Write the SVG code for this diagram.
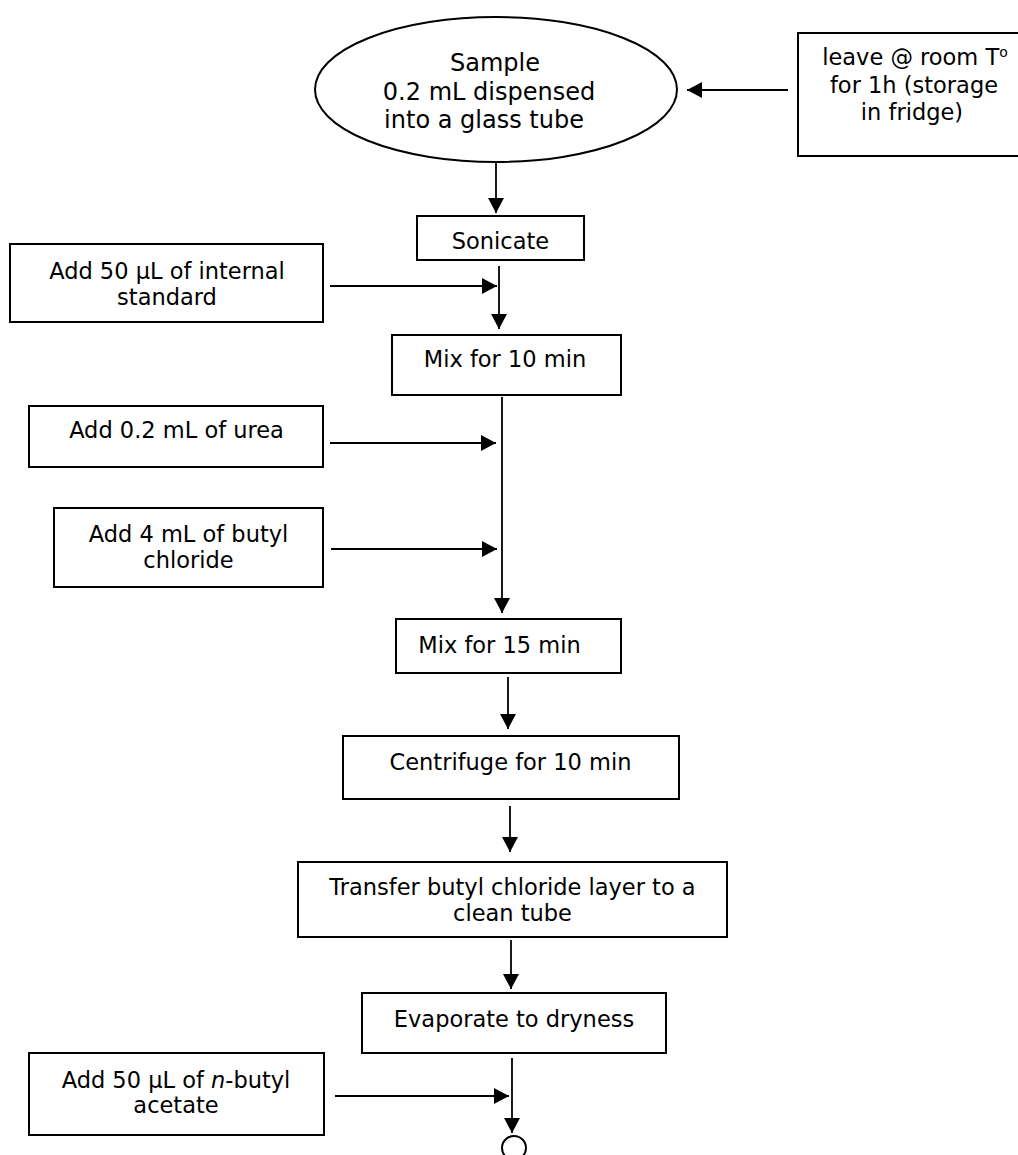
<svg xmlns="http://www.w3.org/2000/svg" width="1018" height="1155" viewBox="0 0 1018 1155">
  <style>
    .box { fill: #ffffff; stroke: #000000; stroke-width: 2; }
    .lbl { font-family: "DejaVu Sans", Verdana, "Liberation Sans", sans-serif; font-size: 22.5px; fill: #000000; text-anchor: middle; }
    .big { font-size: 24px; }
    .conn { stroke: #000000; stroke-width: 1.8; fill: none; }
  </style>
  <defs>
    <marker id="arrow" viewBox="0 0 15 16" refX="15" refY="8" markerWidth="15" markerHeight="16" markerUnits="userSpaceOnUse" orient="auto">
      <path d="M0,0 L15,8 L0,16 Z" fill="#000000"/>
    </marker>
  </defs>
  <rect width="1018" height="1155" fill="#ffffff"/>

  <!-- connectors -->
  <g id="connectors" class="conn">
    <line x1="788" y1="90" x2="687" y2="90" marker-end="url(#arrow)"/>
    <line x1="496" y1="162" x2="496" y2="213" marker-end="url(#arrow)"/>
    <line x1="330" y1="286" x2="497" y2="286" marker-end="url(#arrow)"/>
    <line x1="499" y1="266" x2="499" y2="329" marker-end="url(#arrow)"/>
    <line x1="330" y1="443" x2="496" y2="443" marker-end="url(#arrow)"/>
    <line x1="331" y1="549" x2="497" y2="549" marker-end="url(#arrow)"/>
    <line x1="502" y1="397" x2="502" y2="613" marker-end="url(#arrow)"/>
    <line x1="508" y1="677" x2="508" y2="729" marker-end="url(#arrow)"/>
    <line x1="510" y1="806" x2="510" y2="852" marker-end="url(#arrow)"/>
    <line x1="511" y1="940" x2="511" y2="989" marker-end="url(#arrow)"/>
    <line x1="335" y1="1096" x2="509" y2="1096" marker-end="url(#arrow)"/>
    <line x1="512" y1="1058" x2="512" y2="1133" marker-end="url(#arrow)"/>
  </g>

  <g id="sample">
    <ellipse class="box" cx="496" cy="89.5" rx="181" ry="72.5"/>
    <text class="lbl big" x="495" y="71">Sample</text>
    <text class="lbl big" x="489" y="99.5">0.2 mL dispensed</text>
    <text class="lbl big" x="484" y="128">into a glass tube</text>
  </g>

  <g id="storage">
    <rect class="box" x="798" y="33" width="240" height="123"/>
    <text class="lbl" x="915" y="65">leave @ room T<tspan font-size="14" baseline-shift="super">o</tspan></text>
    <text class="lbl" x="914" y="92.5">for 1h (storage</text>
    <text class="lbl" x="912" y="119.5">in fridge)</text>
  </g>

  <g id="sonicate">
    <rect class="box" x="417" y="216" width="167" height="44"/>
    <text class="lbl" x="500.5" y="249">Sonicate</text>
  </g>

  <g id="add-internal-standard">
    <rect class="box" x="10" y="244" width="313" height="78"/>
    <text class="lbl" x="167" y="279">Add 50 µL of internal</text>
    <text class="lbl" x="167" y="305">standard</text>
  </g>

  <g id="mix-10">
    <rect class="box" x="392" y="335" width="229" height="60"/>
    <text class="lbl" x="505" y="367">Mix for 10 min</text>
  </g>

  <g id="add-urea">
    <rect class="box" x="29" y="406" width="294" height="61"/>
    <text class="lbl" x="176.5" y="438">Add 0.2 mL of urea</text>
  </g>

  <g id="add-butyl-chloride">
    <rect class="box" x="54" y="508" width="269" height="79"/>
    <text class="lbl" x="188.5" y="542">Add 4 mL of butyl</text>
    <text class="lbl" x="188.5" y="568">chloride</text>
  </g>

  <g id="mix-15">
    <rect class="box" x="396" y="619" width="225" height="54"/>
    <text class="lbl" x="499.5" y="653">Mix for 15 min</text>
  </g>

  <g id="centrifuge">
    <rect class="box" x="343" y="736" width="336" height="63"/>
    <text class="lbl" x="510.5" y="770">Centrifuge for 10 min</text>
  </g>

  <g id="transfer">
    <rect class="box" x="298" y="862" width="429" height="75"/>
    <text class="lbl" x="512.5" y="895">Transfer butyl chloride layer to a</text>
    <text class="lbl" x="512.5" y="921">clean tube</text>
  </g>

  <g id="evaporate">
    <rect class="box" x="362" y="993" width="304" height="60"/>
    <text class="lbl" x="514" y="1027">Evaporate to dryness</text>
  </g>

  <g id="add-butyl-acetate">
    <rect class="box" x="29" y="1053" width="295" height="82"/>
    <text class="lbl" x="176" y="1088">Add 50 µL of <tspan font-style="italic">n</tspan>-butyl</text>
    <text class="lbl" x="176" y="1113">acetate</text>
  </g>

  <g id="end">
    <circle class="box" cx="514" cy="1148" r="12"/>
  </g>
</svg>
